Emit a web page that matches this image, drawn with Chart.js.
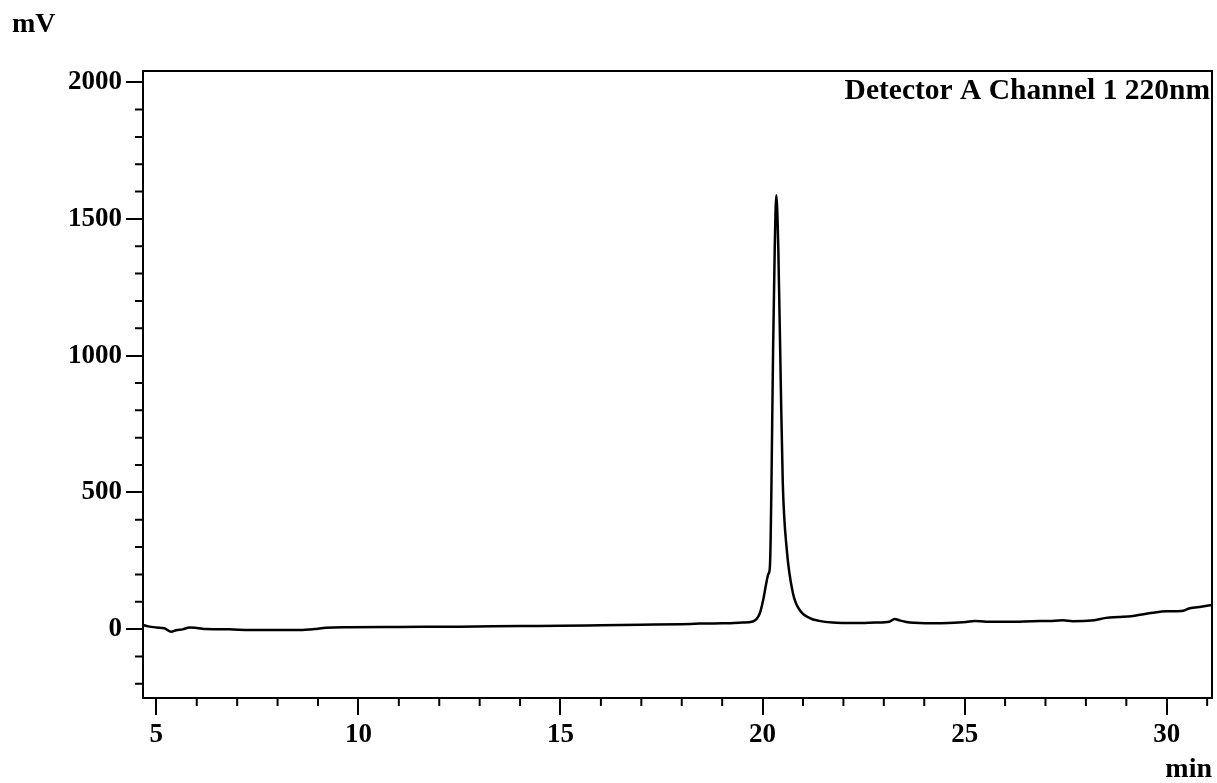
<!DOCTYPE html>
<html lang="en">
<head>
    <meta charset="UTF-8">
    <title>Chromatogram</title>
    <script src="https://cdn.jsdelivr.net/npm/chart.js"></script>
    <style>
        body { margin: 0; background: #fff; }
        #wrap { width: 1217px; height: 783px; }
    </style>
</head>
<body>
    <div id="wrap">
        <canvas id="chromChart" width="1217" height="783"></canvas>
    </div>

    <script>
    // retention time (min) and detector signal (mV)
    const retentionTimes = [4.67, 4.8, 5.0, 5.2, 5.37, 5.49, 5.65, 5.82, 6.0, 6.24, 6.8, 7.31, 8.0, 8.55, 8.9, 9.2, 9.78,
        11.0, 12.5, 14.0, 15.0, 16.0, 17.0, 18.0, 18.44, 19.0, 19.5, 19.76, 19.93, 20.02, 20.09, 20.14, 20.18, 20.2,
        20.22, 20.26, 20.3, 20.34, 20.39, 20.45, 20.5, 20.6, 20.75, 20.92, 21.17, 21.4, 21.73, 22.3, 22.8, 23.14,
        23.27, 23.39, 23.64, 24.21, 24.6, 25.04, 25.24, 25.53, 26.1, 26.68, 27.1, 27.43, 27.67, 28.13, 28.5, 28.8,
        29.16, 29.66, 29.99, 30.36, 30.57, 30.85, 31.12];
    const signalMv = [15, 10, 6, 3, -10, -4, -1, 6, 4, 0, -1, -3, -3, -3, 0, 5, 7,
        8, 9, 11, 12, 14, 16, 18, 20, 21, 24, 28, 57, 110, 167, 200, 225, 330,
        534, 1020, 1386, 1587, 1386, 900, 534, 289, 132, 69, 40, 30, 24, 22, 24, 27,
        37, 32, 24, 21, 22, 26, 30, 27, 27, 29, 30, 32, 29, 31, 41, 44,
        48, 60, 65, 66, 76, 82, 88];

    const xTickValues = [5, 10, 15, 20, 25, 30];
    const yTickValues = [0, 500, 1000, 1500, 2000];

    const SERIF = '"Liberation Serif", "Times New Roman", serif';

    // box, minor ticks and the text labels
    const framePlugin = {
        id: 'frame',
        afterDraw(chart) {
            const ctx = chart.ctx;
            const area = chart.chartArea;
            const xs = chart.scales.x;
            const ys = chart.scales.y;
            ctx.save();
            ctx.strokeStyle = '#000';
            ctx.lineWidth = 2;
            ctx.strokeRect(area.left, area.top, area.right - area.left, area.bottom - area.top);

            ctx.beginPath();
            for (let t = 5; t <= 31; t++) {
                if (t % 5 === 0) continue;
                const px = xs.getPixelForValue(t);
                ctx.moveTo(px, area.bottom);
                ctx.lineTo(px, area.bottom + 8);
            }
            for (let v = -200; v <= 2000; v += 100) {
                if (v % 500 === 0) continue;
                const py = ys.getPixelForValue(v);
                ctx.moveTo(area.left - 8, py);
                ctx.lineTo(area.left, py);
            }
            ctx.stroke();

            ctx.fillStyle = '#000';
            ctx.textBaseline = 'alphabetic';
            ctx.font = 'bold 28px ' + SERIF;
            ctx.textAlign = 'left';
            ctx.fillText('mV', 12, 32);
            ctx.textAlign = 'right';
            ctx.fillText('min', area.right, 777);
            ctx.font = 'bold 29.5px ' + SERIF;
            ctx.fillText('Detector A Channel 1 220nm', area.right - 2, 99);
            ctx.restore();
        }
    };

    const tickFont = { family: SERIF, size: 27, weight: 'bold' };

    const ctx = document.getElementById('chromChart').getContext('2d');
    new Chart(ctx, {
        type: 'line',
        data: {
            datasets: [{
                data: retentionTimes.map((t, i) => ({ x: t, y: signalMv[i] })),
                borderColor: '#000',
                borderWidth: 2.5,
                pointRadius: 0,
                fill: false,
                cubicInterpolationMode: 'monotone'
            }]
        },
        options: {
            responsive: false,
            animation: false,
            layout: { padding: { top: 71, right: 5, bottom: 0, left: 0 } },
            plugins: { legend: { display: false }, tooltip: { enabled: false } },
            scales: {
                x: {
                    type: 'linear',
                    min: 4.67,
                    max: 31.12,
                    afterBuildTicks: scale => { scale.ticks = xTickValues.map(v => ({ value: v })); },
                    afterFit: scale => { scale.height = 85; },
                    border: { display: false },
                    grid: { drawOnChartArea: false, drawTicks: true, tickLength: 17, lineWidth: 2, color: '#000' },
                    ticks: { color: '#000', font: tickFont, padding: 4, maxRotation: 0, callback: v => String(v) }
                },
                y: {
                    min: -252,
                    max: 2041,
                    afterBuildTicks: scale => { scale.ticks = yTickValues.map(v => ({ value: v })); },
                    afterFit: scale => { scale.width = 143; },
                    border: { display: false },
                    grid: { drawOnChartArea: false, drawTicks: true, tickLength: 17, lineWidth: 2, color: '#000' },
                    ticks: { color: '#000', font: tickFont, padding: 4, callback: v => String(v) }
                }
            }
        },
        plugins: [framePlugin]
    });
    </script>
</body>
</html>
